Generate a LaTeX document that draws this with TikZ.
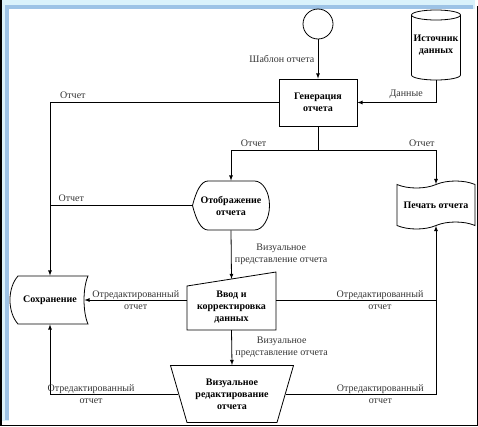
\documentclass[tikz,border=0pt]{standalone}
\usepackage{fontspec}
\setmainfont{Liberation Serif}
\usepackage{tikz}
\usetikzlibrary{shapes,arrows,calc,positioning,shapes.symbols}
\definecolor{frcyan}{HTML}{DAF2FB}
\definecolor{frblue}{HTML}{9DC3E6}
\tikzstyle{shp}=[font=\fontsize{10}{12}\selectfont\bfseries, align=center, inner sep=1pt]
\tikzstyle{proc}=[shp, draw, rectangle, minimum width=78, minimum height=47]
\tikzstyle{term}=[draw, circle, minimum size=30, inner sep=0pt]
\tikzstyle{tapebox}=[shp, draw, tape, minimum width=78, minimum height=48, tape bend height=7]
\tikzstyle{lbl}=[font=\fontsize{10}{12}\selectfont, align=center, text=black!80]

\begin{document}
\begin{tikzpicture}[x=1pt, y=-1pt, >=latex, line width=0.8pt]
    % frame round the picture
    \useasboundingbox (0,0) rectangle (478,426);
    \fill[frcyan] (0,0) rectangle (475,9);
    \fill[frcyan] (0,0) rectangle (9,421);
    \fill[frblue] (5,5) rectangle (473,9);
    \fill[frblue] (5,5) rectangle (9,420);
    \draw[line width=1.5pt] (0.75,0) -- (0.75,425.25) -- (477.25,425.25) -- (477.25,6);

    % Place the blocks
    \node[term] (tmpl) at (318,24) {};
    \node[shp, minimum width=49, minimum height=70] (src) at (436,45) {Источник\\данных};
    \node[proc] (gen) at (318,102.5) {Генерация\\отчета};
    \node[shp, minimum width=77, minimum height=49] (disp) at (231,205.5) {Отображение\\отчета};
    \node[tapebox] (print) at (436,205) {Печать отчета};
    \node[shp, minimum width=68, minimum height=48] (store) at (50,300) {Сохранение};
    \node[shp] (inp) at (231.5,307) {Ввод и\\корректировка\\данных};
    \node[shp, minimum width=106.5, minimum height=57] (edit) at (232,394) {Визуальное\\редактирование\\отчета};

    % outlines of the special blocks
    \draw[shift={(src.center)}] (0,-30) ellipse (24.5 and 5)
        (-24.5,-30) -- (-24.5,30) arc (180:0:24.5 and 5) -- (24.5,-30);
    \draw[shift={(disp.center)}] (-38.5,0) .. controls (-35,-14) and (-30,-24.5) .. (-23,-24.5)
        -- (23.5,-24.5) arc (-90:90:15 and 24.5) -- (-23,24.5)
        .. controls (-30,24.5) and (-35,14) .. cycle;
    \draw[shift={(store.center)}] (-32,-24) -- (38,-24) .. controls (32.7,-12) and (32.7,12) .. (38,24)
        -- (-32,24) .. controls (-42.7,12) and (-42.7,-12) .. cycle;
    \draw[shift={(inp.center)}] (-44.5,-21) -- (44.5,-35) -- (44.5,23) -- (-44.5,23) -- cycle
        (0,-28) coordinate (inp-n) (0,23) coordinate (inp-s)
        (-44.5,-7) coordinate (inp-w) (44.5,-7) coordinate (inp-e);
    \draw[shift={(edit.center)}] (-61.5,-28.5) -- (61.5,-28.5) -- (45,28.5) -- (-45,28.5) -- cycle;

    % connect them
    \coordinate (br) at (318,150);
    \draw[->] (tmpl) -- node[lbl, left] {Шаблон отчета} (gen);
    \draw[->] (src.south) |- node[lbl, pos=0.69, above] {Данные} (gen.east);
    \draw[->] (gen.west) -| node[lbl, pos=0.45, above] {Отчет} (store.north);
    \draw (gen.south) -- (br);
    \draw[->] (br) -| node[lbl, pos=0.37, above] {Отчет} (disp.north);
    \draw[->] (br) -| node[lbl, pos=0.44, above] {Отчет} (print.north);
    \draw (disp.west) -- node[lbl, pos=0.85, above] {Отчет} (disp.west -| store.north);
    \draw[->] (disp.south) -- node[lbl, right] {Визуальное\\представление отчета} (inp-n);
    \draw[->] (inp-w) -- node[lbl] {Отредактированный\\отчет} (inp-w -| store.east);
    \draw (inp-e) -- node[lbl, pos=0.65] {Отредактированный\\отчет} (inp-e -| print.south);
    \draw[->] (inp-s) -- node[lbl, right] {Визуальное\\представление отчета} (edit.north);
    \draw[->] (edit.west) -| node[lbl, pos=0.34] {Отредактированный\\отчет} (store.south);
    \draw[->] (edit.east) -| node[lbl, pos=0.315] {Отредактированный\\отчет} (print.south);
\end{tikzpicture}
\end{document}
